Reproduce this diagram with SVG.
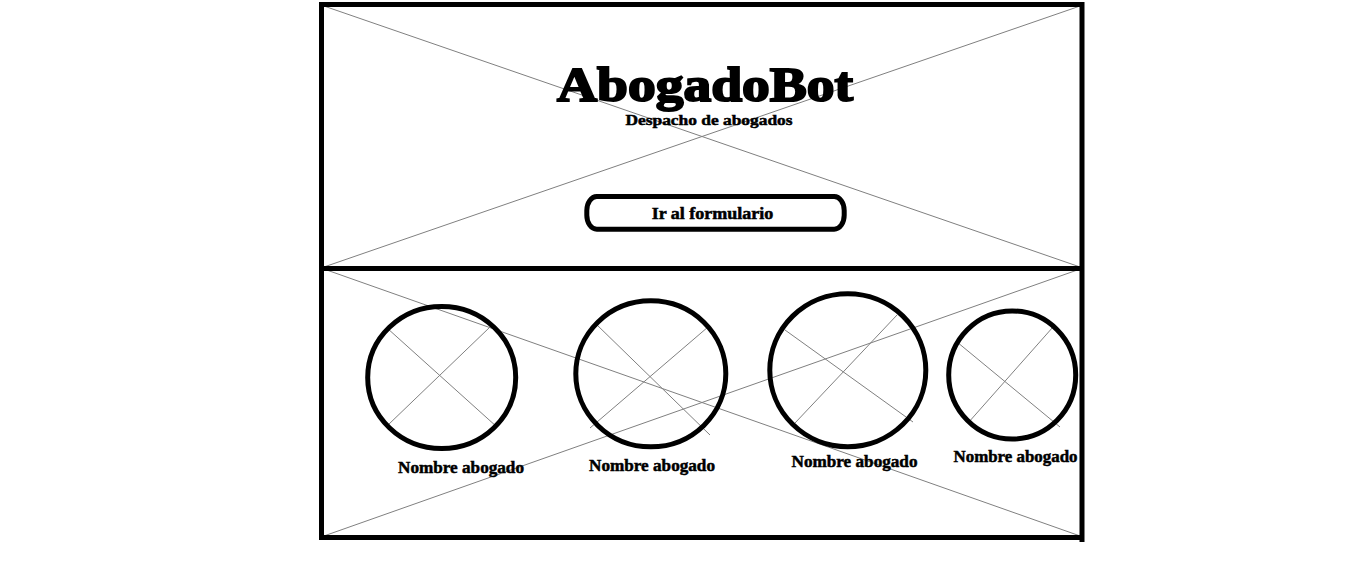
<svg xmlns="http://www.w3.org/2000/svg" width="1371" height="565" viewBox="0 0 1371 565">
<style>
.frame{fill:none;stroke:#000;stroke-width:5}
.ring{fill:none;stroke:#000;stroke-width:5}
.x{stroke:#808080;stroke-width:1;fill:none}
.t{font-family:"Liberation Serif","DejaVu Serif",serif;font-weight:bold;fill:#000;stroke:#000;stroke-width:0.5}
.big{stroke-width:2}
</style>
<rect width="1371" height="565" fill="#fff"/>
<g id="placeholders">
<line class="x" x1="321" y1="5" x2="1083" y2="268"/>
<line class="x" x1="321" y1="268" x2="1083" y2="5"/>
<line class="x" x1="321" y1="268" x2="1083" y2="537"/>
<line class="x" x1="321" y1="537" x2="1083" y2="268"/>
</g>
<g id="frame">
<line class="frame" x1="319" y1="4.5" x2="1084" y2="4.5"/>
<line class="frame" x1="321.5" y1="2" x2="321.5" y2="540"/>
<line class="frame" x1="1082" y1="2" x2="1082" y2="542"/>
<line class="frame" x1="319" y1="268.5" x2="1084" y2="268.5"/>
<line class="frame" x1="319" y1="537.5" x2="1084" y2="537.5"/>
</g>
<g id="header">
<text class="t big" x="705" y="100.7" font-size="48" text-anchor="middle" textLength="296" lengthAdjust="spacingAndGlyphs">AbogadoBot</text>
<text class="t" x="709" y="125" font-size="15" text-anchor="middle" textLength="167" lengthAdjust="spacingAndGlyphs">Despacho de abogados</text>
</g>
<g id="button">
<rect class="ring" x="586.8" y="196.5" width="257.4" height="32.7" rx="10" ry="14"/>
<text class="t" x="712.5" y="219" font-size="16" text-anchor="middle" textLength="121.6" lengthAdjust="spacingAndGlyphs">Ir al formulario</text>
</g>
<g id="lawyer1">
<line class="x" x1="387" y1="328" x2="497" y2="427"/>
<line class="x" x1="490" y1="327" x2="388" y2="425"/>
<ellipse class="ring" cx="441.7" cy="377.5" rx="74" ry="71"/>
<text class="t" x="461" y="473" font-size="17" text-anchor="middle" textLength="126" lengthAdjust="spacingAndGlyphs">Nombre abogado</text>
</g>
<g id="lawyer2">
<line class="x" x1="595" y1="323" x2="710" y2="435"/>
<line class="x" x1="708" y1="327" x2="590" y2="428"/>
<ellipse class="ring" cx="650.8" cy="373.8" rx="75" ry="73"/>
<text class="t" x="652" y="470.7" font-size="17" text-anchor="middle" textLength="126" lengthAdjust="spacingAndGlyphs">Nombre abogado</text>
</g>
<g id="lawyer3">
<line class="x" x1="785" y1="330" x2="913" y2="422"/>
<line class="x" x1="897" y1="315" x2="795" y2="423"/>
<ellipse class="ring" cx="847.8" cy="370.2" rx="78" ry="76.5"/>
<text class="t" x="854.5" y="466.7" font-size="17" text-anchor="middle" textLength="126" lengthAdjust="spacingAndGlyphs">Nombre abogado</text>
</g>
<g id="lawyer4">
<line class="x" x1="957" y1="342" x2="1060" y2="427"/>
<line class="x" x1="1053" y1="327" x2="968" y2="423"/>
<ellipse class="ring" cx="1012.2" cy="375" rx="63.5" ry="64"/>
<text class="t" x="1015.5" y="461.7" font-size="17" text-anchor="middle" textLength="124" lengthAdjust="spacingAndGlyphs">Nombre abogado</text>
</g>
</svg>
